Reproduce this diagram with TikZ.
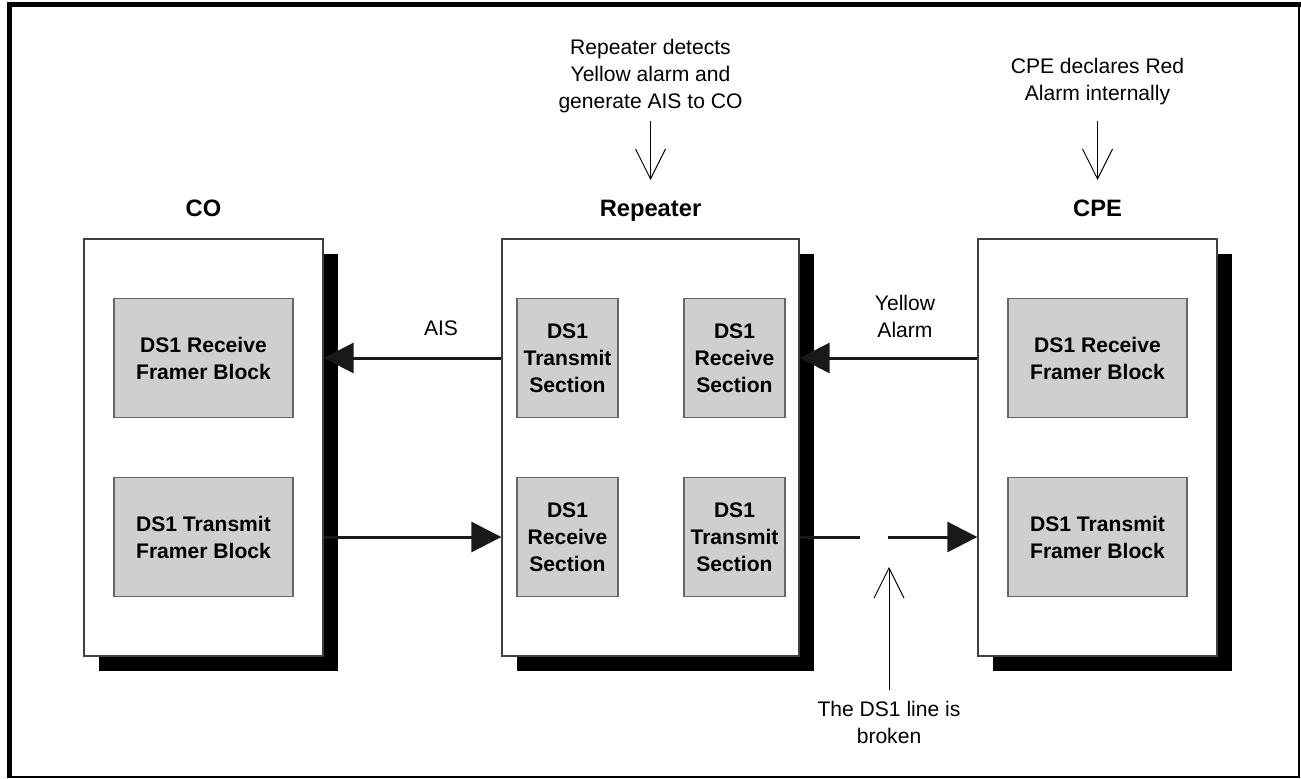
\documentclass[tikz,border=0pt]{standalone}
\usepackage{fontspec}
\setmainfont{Liberation Sans}
\usetikzlibrary{arrows.meta,shadows}

\begin{document}
\begin{tikzpicture}[x=0.02cm,y=-0.02cm,
				unitbox/.style={draw=black!75, line width=0.8pt, fill=white, inner sep=0pt, minimum height=8.34cm,
					general shadow={fill=black, shadow xshift=0.3cm, shadow yshift=-0.3cm}},
				block/.style={draw=black!60, line width=0.8pt, fill=black!19, inner sep=0pt, minimum height=2.38cm,
					align=center, font=\bfseries\fontsize{12}{15.4}\selectfont},
				hdr/.style={anchor=base, font=\bfseries\fontsize{13.5}{16}\selectfont},
				note/.style={align=center, inner sep=0pt, font=\fontsize{12}{15.4}\selectfont},
				sig/.style={line width=1.7pt, black!90, -{Triangle[length=0.6cm, width=0.6cm]}},
				hint/.style={line width=0.55pt, -{Straight Barb[length=0.6cm, width=0.6cm]}}]
				\useasboundingbox (0,0) rectangle (1301,778);
				% frame
				\draw[line width=0.04cm] (9.5,4.5) rectangle (1299.3,776.7);
				\draw[line width=0.1cm] (9.5,778) -- (9.5,4.5) -- (1301,4.5);
				% the three units
				\node[unitbox, minimum width=4.78cm] (co)  at (203.5,447.5) {};
				\node[unitbox, minimum width=5.94cm] (rep) at (650.5,447.5) {};
				\node[unitbox, minimum width=4.78cm] (cpe) at (1097.5,447.5) {};
				\node[hdr] (cohdr)  at (203.5,216) {CO};
				\node[hdr] (rephdr) at (650.5,216) {Repeater};
				\node[hdr] (cpehdr) at (1097.5,216) {CPE};
				% framer blocks
				\node[block, minimum width=3.58cm] (corx) at (203.5,358) {DS1 Receive\\Framer Block};
				\node[block, minimum width=3.58cm] (cotx) at (203.5,537) {DS1 Transmit\\Framer Block};
				\node[block, minimum width=3.58cm] (cperx) at (1097.5,358) {DS1 Receive\\Framer Block};
				\node[block, minimum width=3.58cm] (cpetx) at (1097.5,537) {DS1 Transmit\\Framer Block};
				\node[block, minimum width=2.02cm] (reptxa) at (567.5,358) {DS1\\Transmit\\Section};
				\node[block, minimum width=2.02cm] (reprxa) at (734.5,358) {DS1\\Receive\\Section};
				\node[block, minimum width=2.02cm] (reprxb) at (567.5,537) {DS1\\Receive\\Section};
				\node[block, minimum width=2.02cm] (reptxb) at (734.5,537) {DS1\\Transmit\\Section};
				% signals
				\draw[sig] (rep.west |- corx) -- (co.east |- corx);
				\node[note] (ais) at (441,328) {AIS};
				\draw[sig] (cpe.west |- cperx) -- (rep.east |- cperx);
				\node[note] (yel) at (905,316) {Yellow\\Alarm};
				\draw[sig] (co.east |- cotx) -- (rep.west |- cotx);
				\coordinate (gapl) at (860,537);
				\coordinate (gapr) at (888,537);
				\draw[line width=1.7pt, black!90] (rep.east |- cpetx) -- (gapl);
				\draw[sig] (gapr) -- (cpe.west |- cpetx);
				% notes
				\node[note] (reptxt) at (650.5,76) {Repeater detects\\Yellow alarm and\\generate AIS to CO};
				\node[note] (cpetxt) at (1097.5,82) {CPE declares Red\\Alarm internally};
				\node[note] (brk) at (889,722) {The DS1 line is\\broken};
				\coordinate (repin) at (650.5,180);
				\coordinate (cpein) at (1097.5,180);
				\coordinate (brkin) at (889,567);
				\draw[hint, shorten <=0.16cm] (reptxt.south) -- (repin);
				\draw[hint, shorten <=0.3cm] (cpetxt.south) -- (cpein);
				\draw[hint, shorten <=0.2cm] (brk.north) -- (brkin);
			\end{tikzpicture}
\end{document}
